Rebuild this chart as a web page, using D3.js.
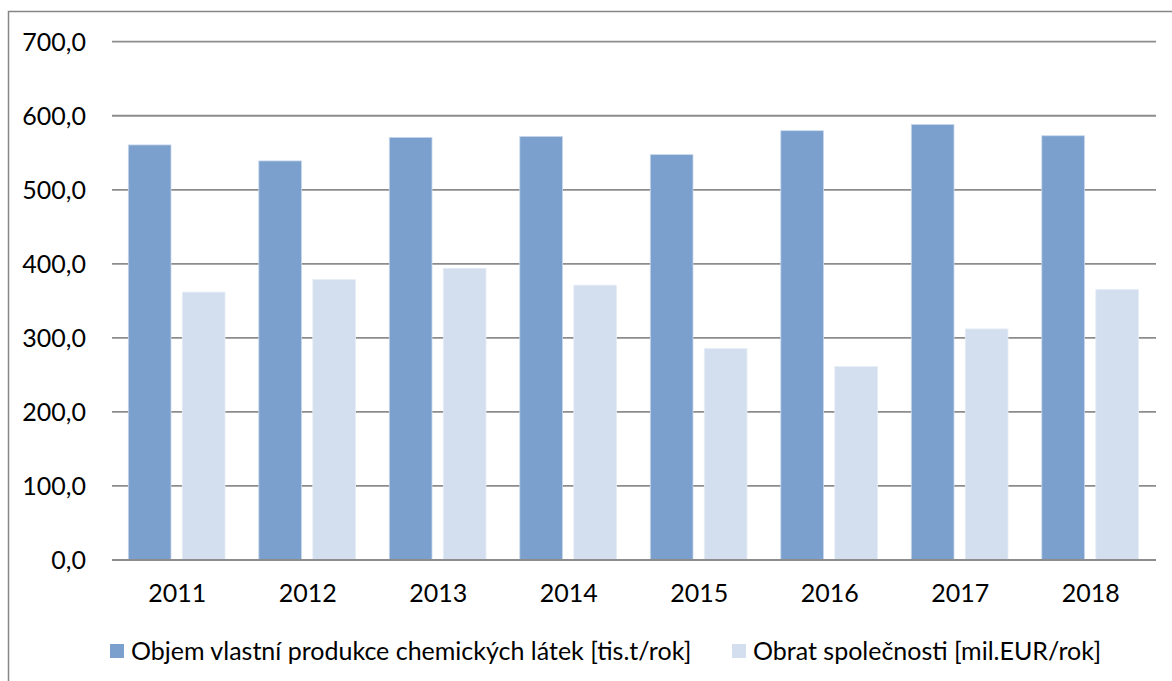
<!DOCTYPE html>
<html>
<head>
<meta charset="utf-8">
<script src="https://cdn.jsdelivr.net/npm/d3@7"></script>
<style>
  html, body { margin: 0; padding: 0; background: #ffffff; }
  svg { display: block; }
  text { font-family: Lato, "Open Sans", sans-serif; fill: #000; }
</style>
</head>
<body>
<svg id="chart" width="1172" height="681"></svg>
<script>
const years = ["2011", "2012", "2013", "2014", "2015", "2016", "2017", "2018"];
const seriesNames = [
  "Objem vlastní produkce chemických látek [tis.t/rok]",
  "Obrat společnosti [mil.EUR/rok]"
];
const production = [560.6, 539.0, 570.8, 572.1, 547.5, 579.8, 588.3, 573.0];
const turnover   = [361.8, 378.7, 394.0, 371.2, 285.6, 261.4, 312.1, 365.4];
const yTicks = [0, 100, 200, 300, 400, 500, 600, 700];
const colors = ["#7BA0CD", "#D3DFEE"];

const W = 1172, H = 681;
const plot = { left: 112, right: 1156, top: 41.7, bottom: 560 };

const svg = d3.select("#chart");

// outer frame
svg.append("rect")
  .attr("x", 8.5).attr("y", 11.5)
  .attr("width", 1300).attr("height", 800)
  .attr("fill", "none").attr("stroke", "#868686").attr("stroke-width", 1.5);

const x = d3.scaleBand().domain(years).range([plot.left, plot.right]).padding(0);
const y = d3.scaleLinear().domain([0, 700]).range([plot.bottom, plot.top]);

// gridlines
svg.append("g").selectAll("line")
  .data(yTicks.filter(d => d > 0))
  .join("line")
  .attr("x1", plot.left).attr("x2", plot.right)
  .attr("y1", d => y(d)).attr("y2", d => y(d))
  .attr("stroke", "#8c8c8c").attr("stroke-width", 1.8);

// y tick labels
const fmt = v => v.toFixed(1).replace(".", ",");
svg.append("g").selectAll("text")
  .data(yTicks)
  .join("text")
  .attr("x", 86).attr("y", d => y(d))
  .attr("dy", "0.36em")
  .attr("text-anchor", "end")
  .style("font-size", "25px")
  .text(fmt);

// bars
const bw = x.bandwidth();
const barW = bw * 42.7 / 130.5;
const offsets = [bw * 16.3 / 130.5, bw * 70.3 / 130.5];
const series = [production, turnover];
const strokes = ["#c9d8ec", "#e6edf6"];
series.forEach((vals, si) => {
  svg.append("g").selectAll("rect")
    .data(years.map((yr, i) => ({ yr, v: vals[i] })))
    .join("rect")
    .attr("x", d => x(d.yr) + offsets[si])
    .attr("y", d => y(d.v))
    .attr("width", barW)
    .attr("height", d => y(0) - y(d.v))
    .attr("fill", colors[si])
    .attr("stroke", strokes[si])
    .attr("stroke-width", 0.8);
});

// x axis line
svg.append("line")
  .attr("x1", plot.left).attr("x2", plot.right)
  .attr("y1", y(0)).attr("y2", y(0))
  .attr("stroke", "#8c8c8c").attr("stroke-width", 1.8);

// x labels
svg.append("g").selectAll("text")
  .data(years)
  .join("text")
  .attr("x", d => x(d) + bw / 2)
  .attr("y", 593)
  .attr("dy", "0.36em")
  .attr("text-anchor", "middle")
  .style("font-size", "25px")
  .text(d => d);

// legend
const legendItems = [
  { name: seriesNames[0], color: colors[0], sx: 110, tx: 131 },
  { name: seriesNames[1], color: colors[1], sx: 732, tx: 753 }
];
const lg = svg.append("g");
legendItems.forEach(it => {
  lg.append("rect")
    .attr("x", it.sx).attr("y", 644)
    .attr("width", 14).attr("height", 14)
    .attr("fill", it.color);
  lg.append("text")
    .attr("x", it.tx).attr("y", 651)
    .attr("dy", "0.36em")
    .style("font-size", "25px")
    .text(it.name);
});
</script>
</body>
</html>
